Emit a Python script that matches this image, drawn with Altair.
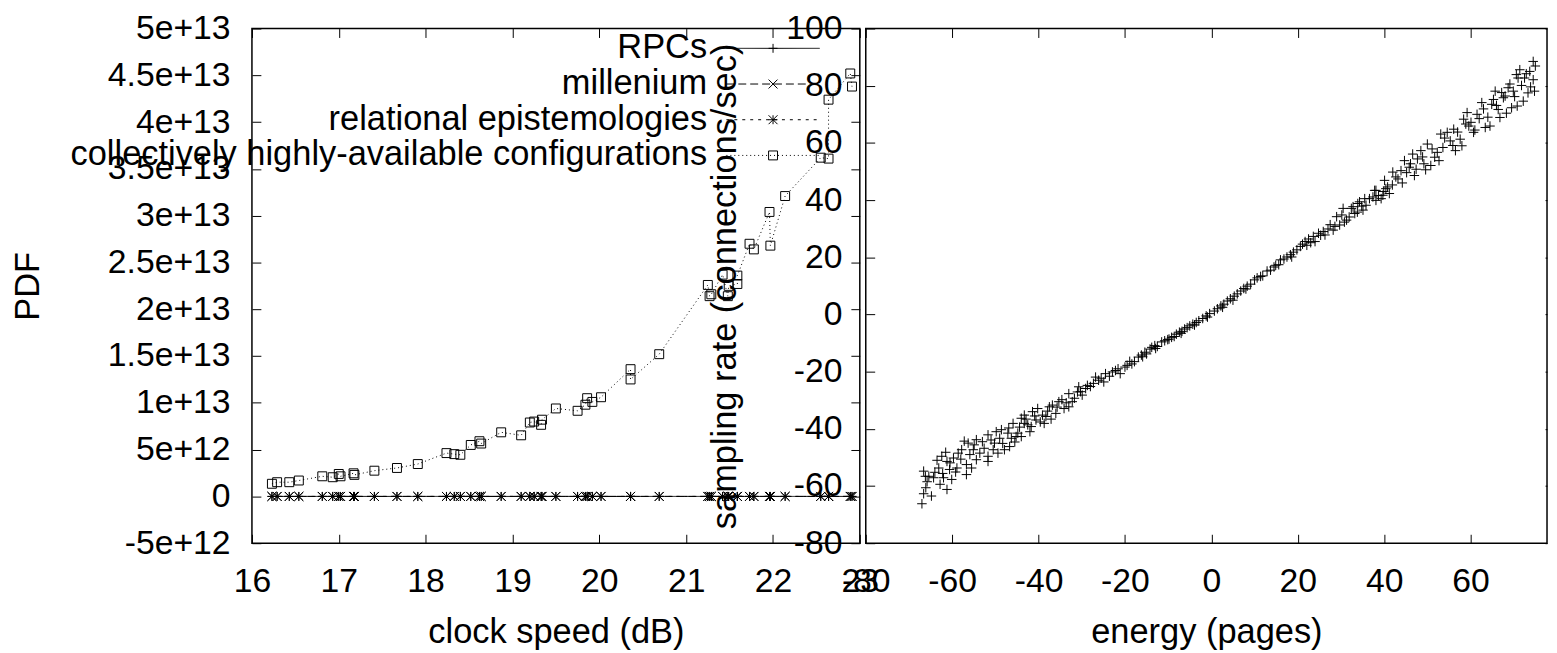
import altair as alt
import pandas as pd

FONT = "Liberation Sans"
FS = 34      # tick labels
FT = 34.7    # axis titles and key

# ---------------- left panel data ----------------
SERIES = ["RPCs", "millenium", "relational epistemologies",
          "collectively highly-available configurations"]

CLOCK = [16.23, 16.29, 16.43, 16.54, 16.81, 16.93, 17.00, 17.02, 17.17, 17.18,
         17.41, 17.67, 17.91, 18.24, 18.33, 18.40, 18.52, 18.62, 18.64, 18.87,
         19.10, 19.20, 19.25, 19.33, 19.34, 19.50, 19.75, 19.84, 19.86, 19.92,
         20.02, 20.36, 20.36, 20.69, 21.25, 21.27, 21.29, 21.42, 21.48, 21.49,
         21.59, 21.59, 21.73, 21.78, 21.96, 21.97, 22.14, 22.55, 22.64, 22.64,
         22.89, 22.91]

PDF_RPCS = [0, 0, 0, 0, 0, 0, 0, 0, 0, 0, 0, 0, 0, 0, 0, 0, 0, 0, 0, 0,
            0, 0, 0, 0, 0, 0, 0, 0, 0, 0, 0, 0, 0, 0, 0, 0, 0, 0, 0, 0,
            0, 0, 0, 0, 0, 0, 0, 0, 0, 0, 0, 0]
PDF_MILLENIUM = [0, 0, 0, 0, 0, 0, 0, 0, 0, 0, 0, 0, 0, 0, 0, 0, 0, 0, 0, 0,
                 0, 0, 0, 0, 0, 0, 0, 0, 0, 0, 0, 0, 0, 0, 0, 0, 0, 0, 0, 0,
                 0, 0, 0, 0, 0, 0, 0, 0, 0, 0, 0, 0]
PDF_RELATIONAL = [0, 0, 0, 0, 0, 0, 0, 0, 0, 0, 0, 0, 0, 0, 0, 0, 0, 0, 0, 0,
                  0, 0, 0, 0, 0, 0, 0, 0, 0, 0, 0, 0, 0, 0, 0, 0, 0, 0, 0, 0,
                  0, 0, 0, 0, 0, 0, 0, 0, 0, 0, 0, 0]
# in units of 1e12
PDF_CONFIG = [1.35, 1.52, 1.52, 1.70, 2.15, 2.05, 2.40, 2.15, 2.47, 2.30,
              2.75, 3.04, 3.46, 4.63, 4.52, 4.45, 5.50, 5.90, 5.65, 6.85,
              6.53, 7.90, 8.00, 7.65, 8.20, 9.40, 9.15, 9.80, 10.5, 10.1,
              10.6, 13.6, 12.5, 15.2, 22.6, 21.4, 21.6, 23.7, 21.4, 22.5,
              22.7, 23.6, 27.0, 26.4, 30.4, 26.8, 32.1, 36.2, 36.1, 42.4,
              45.2, 43.8]

LEFT_X_TICKS = [16, 17, 18, 19, 20, 21, 22, 23]
LEFT_Y_TICKS = [-5e12, 0, 5e12, 1e13, 1.5e13, 2e13, 2.5e13, 3e13, 3.5e13, 4e13, 4.5e13, 5e13]

# ---------------- right panel data ----------------
ENERGY = [-67.0, -66.6, -64.8, -66.1, -66.2, -66.6, -65.4, -64.3, -63.1, -62.8,
          -62.0, -61.2, -62.4, -61.2, -60.6, -60.1, -60.5, -59.7, -58.6, -58.9,
          -57.8, -56.7, -56.3, -56.7, -55.5, -55.1, -54.4, -54.4, -53.6, -51.7,
          -51.7, -51.7, -50.5, -50.2, -49.8, -49.4, -49.0, -47.9, -47.1, -46.7,
          -46.3, -45.9, -45.2, -44.8, -44.0, -44.0, -43.3, -43.3, -42.5, -41.7,
          -41.4, -40.6, -40.2, -39.1, -38.7, -38.3, -37.5, -36.8, -36.0, -35.3,
          -34.1, -33.0, -33.0, -32.2, -31.0, -30.7, -29.9, -29.1, -28.7, -26.8,
          -26.1, -24.9, -24.5, -22.2, -21.1, -20.0, -18.4,
          -16.9, -15.4, -14.2, -13.1, -10.8, -9.2, -8.1, -6.2, -5.0, -3.5,
          -1.2, 0.7, 2.2, 3.7, 5.3, 6.8, 8.3, 10.6, 13.7, 15.6,
          16.0, 18.3, 19.8, 20.6, 21.7, 23.6, 24.0, 25.9, 26.3, 28.2,
          29.0, 29.7, 31.3, 32.4, 33.2, 34.3, 35.1, 37.4, 38.1, 39.3,
          40.4, 41.2,
          -19.5, -17.8, -16.2, -15.0, -13.8, -12.5, -11.5, -10.1, -8.6, -7.4,
          -6.8, -5.6, -4.3, -2.9, -2.0, -0.4, 1.4, 2.9, 4.4, 6.0,
          7.5, 9.1, 10.0, 11.4, 12.9, 14.5, 16.8, 17.5, 19.0, 21.1,
          22.5, 23.0, 24.8, 27.0, 28.6, 30.2, 30.8, 33.8, 35.8, 36.6,
          30.5, 32.8, 33.9, 35.5, 37.8, 38.1, 39.7, 40.1, 40.8, 42.0,
          42.7, 43.9, 44.7, 45.8, 46.6, 47.0, 47.7, 48.5, 49.2, 50.0,
          50.8, 52.3, 52.7, 53.1, 54.6, 55.3, 56.1, 56.5, 57.6, 58.4,
          59.2, 59.6, 60.7, 61.5, 62.6, 63.4, 64.5, 64.9, 65.7, 66.4,
          66.8, 67.6, 68.7, 69.5, 69.9, 70.6, 71.4, 72.2, 72.5, 73.3,
          73.7, 74.5, 74.5, 74.8, 71.0, 68.0,
          -65.8, -64.0, -63.5, -62.2, -61.5, -59.2, -58.0, -57.2, -55.9, -54.9,
          -53.0, -52.6, -51.0, -48.6, -48.3, -46.9, -45.5, -44.4, -42.9, -42.0,
          -40.9, -39.6, -37.9, -37.1, -35.7, -34.6, -33.6, -31.7, -30.3, -28.0,
          -27.3, -25.5, -23.6, -22.9, -21.6,
          41.9, 43.2, 44.2, 45.2, 46.1, 47.4, 48.9, 49.6, 51.1, 51.7,
          53.6, 54.0, 55.9, 57.0, 58.0, 58.9, 60.1, 61.0, 62.0, 63.0,
          64.0, 65.3, 66.0, 67.2, 68.3, 69.1, 70.2, 71.8, 72.9, 73.9,
          75.0, 70.8,
          -18.9, -15.9, -12.9, -9.8, -7.0, -3.9, -0.9, 2.6, 5.0, 8.0,
          11.9, 14.9, 18.6, 22.1, 25.3, 27.5, 31.9, 34.8, 38.7, 39.9]
RATE = [-66.2, -62.7, -63.5, -60.6, -56.6, -54.8, -56.6, -57.1, -53.7, -59.4,
        -57.1, -61.2, -49.6, -51.4, -54.2, -57.7, -51.9, -50.2, -48.5, -53.7,
        -47.3, -56.0, -45.0, -52.5, -53.7, -47.3, -43.8, -50.8, -48.5, -51.4,
        -49.6, -42.1, -47.3, -45.0, -41.0, -48.5, -43.3, -47.3, -41.5, -46.2,
        -43.3, -38.1, -42.7, -41.5, -36.3, -42.7, -35.2, -38.1, -38.6, -39.2,
        -34.0, -36.9, -32.9, -35.2, -38.1, -35.7, -32.3, -31.7, -34.6, -30.5,
        -32.9, -32.3, -27.7, -30.5, -27.1, -25.3, -28.2, -25.9, -24.8, -21.9,
        -23.0, -23.6, -20.7, -19.6, -20.7, -18.4, -17.3,
        -14.9, -13.2, -12.1, -10.9, -9.2, -8.0, -6.9, -5.1, -4.0, -2.8,
        -0.5, 1.2, 3.0, 4.7, 6.4, 8.2, 9.9, 12.8, 15.5, 17.4,
        19.1, 20.9, 22.6, 23.8, 25.5, 27.3, 25.5, 29.0, 27.8, 29.5,
        34.2, 31.3, 33.0, 37.1, 35.3, 39.4, 36.5, 41.1, 43.4, 40.5,
        44.0, 42.3,
        -17.8, -16.5, -14.2, -13.8, -11.5, -11.2, -9.6, -8.8, -7.7, -6.2,
        -5.9, -4.6, -3.4, -2.2, -1.4, 0.3, 2.0, 3.6, 5.5, 7.2,
        9.1, 10.6, 12.1, 13.3, 15.2, 16.6, 19.4, 20.1, 21.8, 24.6,
        26.4, 25.1, 28.4, 29.9, 30.8, 34.8, 32.3, 35.8, 38.2, 40.5,
        37.1, 37.7, 38.8, 40.5, 43.4, 39.9, 41.7, 46.9, 44.6, 49.8,
        48.1, 50.3, 53.8, 51.5, 56.1, 48.6, 54.4, 57.3, 52.7, 59.6,
        52.1, 56.7, 53.8, 63.1, 63.7, 60.7, 64.8, 57.3, 61.3, 68.3,
        70.6, 65.9, 63.7, 70.0, 74.1, 65.4, 65.9, 73.5, 78.1, 71.7,
        68.9, 75.8, 79.3, 72.3, 78.1, 83.9, 85.6, 74.6, 82.7, 77.5,
        85.0, 88.5, 82.1, 78.1, 82.7, 76.4,
        -58.5, -55.2, -51.0, -55.6, -48.2, -55.1, -50.6, -44.3, -49.0, -45.6,
        -44.5, -46.8, -43.9, -40.3, -45.1, -39.7, -44.6, -39.4, -36.6, -41.0,
        -35.5, -37.6, -33.8, -36.6, -32.4, -29.8, -30.9, -29.3, -27.0, -25.2,
        -24.1, -22.3, -21.6, -20.1, -19.0,
        45.3, 47.4, 46.0, 49.6, 52.7, 50.8, 55.1, 50.6, 57.9, 55.0,
        58.4, 61.7, 59.1, 63.8, 59.0, 66.6, 67.2, 64.5, 68.5, 71.9,
        69.0, 75.2, 73.1, 77.6, 70.4, 80.6, 76.2, 80.1, 84.2, 79.6,
        86.9, 72.9,
        -16.4, -14.8, -11.9, -8.6, -6.6, -3.7, -0.9, 2.5, 5.0, 8.9,
        13.5, 17.2, 20.1, 24.2, 27.7, 31.4, 34.1, 37.9, 41.6, 43.0]

# the right end of the energy axis (80) lies just past the window edge
RIGHT_X_TICKS = [-80, -60, -40, -20, 0, 20, 40, 60]
RIGHT_X_DOMAIN = [-80, 77.7]
RIGHT_Y_TICKS = [-80, -60, -40, -20, 0, 20, 40, 60, 80, 100]

# ---------------- marker shapes (gnuplot style) ----------------
PLUS = "M-1,0H1M0,-1V1"
CROSS = "M-1,-1L1,1M-1,1L1,-1"
STAR = "M-1,0H1M0,-1V1M-1,-1L1,1M-1,1L1,-1"
SQUARE = "M-1,-1H1V1H-1Z"
SHAPES = [PLUS, CROSS, STAR, SQUARE]
DASHES = [[1, 0], [8, 4], [3, 5], [1, 3]]
KEY_LINE = "M-2.85,0H2.85"   # long horizontal sample line for the key

rows = []
for s_i, (name, vals, scale) in enumerate(zip(
        SERIES, [PDF_RPCS, PDF_MILLENIUM, PDF_RELATIONAL, PDF_CONFIG],
        [1.0, 1.0, 1.0, 1e12])):
    for i, (x, y) in enumerate(zip(CLOCK, vals)):
        rows.append({"series": name, "marker": name, "x": x, "y": y * scale,
                     "idx": i, "sidx": s_i})
dfl = pd.DataFrame(rows)
dfr = pd.DataFrame({"x": ENERGY, "y": RATE})


def axis(orient, values, labels=True, title=None, label_expr=None,
         label_pad=22, title_pad=10, tick=9):
    kw = dict(orient=orient, offset=-tick, tickSize=tick, tickWidth=1,
              tickColor="black", domain=False, grid=False, values=values,
              labels=labels, labelFlush=False, labelOverlap=False,
              labelFont=FONT, labelFontSize=FS, labelColor="black",
              labelPadding=label_pad)
    if label_expr is not None:
        kw["labelExpr"] = label_expr
    if title is not None:
        kw.update(title=title, titleFont=FONT, titleFontSize=FT,
                  titleFontWeight="normal", titleColor="black",
                  titlePadding=title_pad)
    else:
        kw["title"] = None
    return alt.Axis(**kw)


INT_EXPR = "'' + datum.value"
SCI_EXPR = "datum.value == 0 ? '0' : replace(format(datum.value, '~e'), '\\u2212', '-')"

LW, LH = 613, 519
RW, RH = 687, 519

lx_scale = alt.Scale(domain=[16, 23], nice=False, zero=False)
ly_scale = alt.Scale(domain=[-5e12, 5e13], nice=False, zero=False)

# key: labels right-aligned, then the line sample, marker on its middle
KEY_X, KEY_Y = 508.15, 2.6
legend_lines = alt.Legend(
    orient="none", legendX=KEY_X, legendY=KEY_Y, title=None,
    symbolType=KEY_LINE, symbolSize=1089, symbolStrokeWidth=1,
    symbolStrokeColor="black", symbolFillColor="transparent", symbolOffset=0,
    rowPadding=0, padding=0,
    labelAlign="right", labelOffset=alt.ExprRef("-83.85"), labelFont=FONT,
    labelFontSize=FT, labelColor="black", labelLimit=0)
legend_marks = alt.Legend(
    orient="none", legendX=KEY_X, legendY=KEY_Y, title=None,
    symbolSize=81, symbolStrokeWidth=1, symbolStrokeColor="black",
    symbolOffset=0, rowPadding=0, padding=0,
    labelExpr="''", labelFontSize=FT)

lines = alt.Chart(dfl).mark_line(color="black", strokeWidth=1).encode(
    x=alt.X("x:Q", scale=lx_scale,
            axis=axis("bottom", LEFT_X_TICKS, title="clock speed (dB)",
                      label_expr=INT_EXPR, label_pad=21.5, title_pad=18)),
    y=alt.Y("y:Q", scale=ly_scale,
            axis=axis("left", LEFT_Y_TICKS, title="PDF", label_expr=SCI_EXPR,
                      label_pad=22, title_pad=62)),
    strokeDash=alt.StrokeDash("series:N",
                              scale=alt.Scale(domain=SERIES, range=DASHES),
                              legend=legend_lines),
    order="idx:Q",
)
points = alt.Chart(dfl).mark_point(filled=False, color="black", strokeWidth=1,
                                   size=81, opacity=1).encode(
    x=alt.X("x:Q", scale=lx_scale, axis=axis("top", LEFT_X_TICKS, labels=False)),
    y=alt.Y("y:Q", scale=ly_scale, axis=axis("right", LEFT_Y_TICKS, labels=False)),
    shape=alt.Shape("marker:N", sort=SERIES, scale=alt.Scale(range=SHAPES),
                    legend=legend_marks),
)
left = alt.layer(lines, points).resolve_axis(
    x="independent", y="independent").properties(width=LW, height=LH)

rx_scale = alt.Scale(domain=RIGHT_X_DOMAIN, nice=False, zero=False)
ry_scale = alt.Scale(domain=[-80, 100], nice=False, zero=False)

pts = alt.Chart(dfr).mark_point(shape=PLUS, filled=False, color="black",
                                strokeWidth=1, size=92, opacity=1).encode(
    x=alt.X("x:Q", scale=rx_scale,
            axis=axis("bottom", RIGHT_X_TICKS, title="energy (pages)",
                      label_expr=INT_EXPR, label_pad=21.5, title_pad=18)),
    y=alt.Y("y:Q", scale=ry_scale,
            axis=axis("left", RIGHT_Y_TICKS,
                      title="sampling rate (connections/sec)",
                      label_expr=INT_EXPR, label_pad=24, title_pad=44)),
)
ghost = alt.Chart(dfr).mark_point(opacity=0).encode(
    x=alt.X("x:Q", scale=rx_scale, axis=axis("top", RIGHT_X_TICKS, labels=False)),
    y=alt.Y("y:Q", scale=ry_scale,
            axis=axis("right", RIGHT_Y_TICKS, labels=False, tick=2)),
)
right = alt.layer(pts, ghost).resolve_axis(
    x="independent", y="independent").properties(width=RW, height=RH)

chart = alt.hconcat(left, right, spacing=6, bounds="flush").properties(
    padding={"left": 2, "top": 0, "right": 0, "bottom": 0}
).configure_view(stroke="black", strokeWidth=1.5)

chart.save("out.html", embed_options={"renderer": "svg", "actions": False})
